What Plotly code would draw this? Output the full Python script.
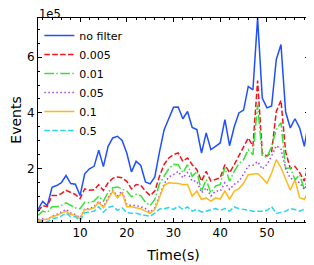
import plotly.graph_objects as go

# Time axis (s)
time_s = list(range(1, 60))

# Events, in units of 1e5
no_filter = [0.53, 0.82, 0.67, 1.33, 1.39, 1.49, 1.75, 1.46, 1.44, 1.03,
             1.81, 1.99, 2.08, 2.66, 2.07, 2.80, 3.10, 3.16, 3.01, 2.56,
             1.88, 2.26, 2.11, 1.52, 1.45, 1.70, 2.60, 3.40, 3.80, 4.20,
             4.21, 3.79, 4.05, 3.48, 3.40, 2.56, 3.28, 2.68, 2.80, 2.92,
             3.76, 2.82, 3.50, 4.00, 4.10, 4.95, 4.83, 7.41, 4.53, 4.18,
             4.25, 5.92, 6.46, 4.03, 3.46, 3.79, 3.46, 2.80, 3.76]
f_0005 = [0.47, 0.67, 0.63, 1.03, 1.03, 1.10, 1.22, 1.15, 1.07, 0.92,
          1.27, 1.22, 1.24, 1.42, 1.21, 1.49, 1.65, 1.70, 1.67, 1.54,
          1.27, 1.43, 1.40, 1.19, 1.03, 1.19, 1.72, 2.15, 2.38, 2.50,
          2.56, 2.26, 2.38, 2.14, 1.96, 1.55, 1.90, 1.55, 1.60, 1.67,
          2.14, 1.85, 2.14, 2.45, 2.75, 3.10, 2.80, 5.16, 2.56, 2.45,
          2.60, 4.05, 4.45, 2.60, 2.00, 2.08, 1.85, 1.55, 2.25]
f_001 = [0.32, 0.47, 0.42, 0.63, 0.63, 0.67, 0.77, 0.67, 0.59, 0.56,
         0.79, 0.77, 0.83, 1.01, 0.83, 1.15, 1.31, 1.34, 1.27, 1.19,
         0.99, 1.07, 1.03, 0.79, 0.67, 0.89, 1.45, 1.75, 2.00, 2.15,
         2.14, 1.85, 2.14, 1.72, 1.90, 1.19, 1.60, 1.13, 1.37, 1.43,
         2.03, 1.55, 1.90, 2.17, 2.32, 2.68, 2.50, 4.30, 2.45, 2.40,
         2.80, 3.40, 3.65, 2.00, 2.03, 1.60, 1.78, 1.25, 1.78]
f_005 = [0.17, 0.20, 0.17, 0.29, 0.35, 0.43, 0.53, 0.40, 0.35, 0.23,
         0.56, 0.56, 0.63, 0.83, 0.63, 0.95, 1.22, 1.01, 1.19, 0.71,
         0.67, 0.67, 0.63, 0.56, 0.43, 0.59, 1.05, 1.45, 1.70, 1.78,
         1.90, 1.67, 1.85, 1.55, 1.55, 1.13, 1.31, 1.01, 1.19, 1.19,
         1.49, 1.25, 1.43, 1.55, 1.80, 2.10, 2.12, 2.25, 1.98, 2.15,
         2.45, 2.82, 2.70, 2.00, 1.65, 1.60, 1.49, 1.25, 1.55]
f_01 = [0.12, 0.17, 0.17, 0.27, 0.32, 0.39, 0.47, 0.35, 0.32, 0.20,
        0.53, 0.53, 0.59, 0.79, 0.59, 0.89, 1.19, 0.95, 1.13, 0.63,
        0.63, 0.59, 0.56, 0.47, 0.39, 0.53, 0.95, 1.40, 1.49, 1.48,
        1.46, 1.43, 1.43, 1.01, 1.19, 0.89, 0.95, 0.83, 0.95, 0.91,
        1.19, 0.89, 1.19, 1.28, 1.47, 1.78, 1.80, 1.82, 1.66, 1.47,
        1.84, 2.32, 2.03, 1.60, 1.22, 1.60, 0.95, 0.89, 1.25]
f_05 = [0.08, 0.12, 0.08, 0.20, 0.23, 0.29, 0.41, 0.27, 0.27, 0.13,
        0.41, 0.43, 0.47, 0.63, 0.43, 0.60, 0.65, 0.50, 0.59, 0.42,
        0.39, 0.39, 0.35, 0.31, 0.28, 0.40, 0.55, 0.56, 0.60, 0.53,
        0.65, 0.53, 0.62, 0.47, 0.53, 0.44, 0.47, 0.53, 0.56, 0.50,
        0.56, 0.47, 0.62, 0.56, 0.53, 0.50, 0.47, 0.47, 0.47, 0.50,
        0.63, 0.39, 0.42, 0.47, 0.56, 0.53, 0.47, 0.56, 0.62]

series_names = ["no filter", "0.005", "0.01", "0.05", "0.1", "0.5"]
series_values = [no_filter, f_0005, f_001, f_005, f_01, f_05]
colors = ["#1f4fff", "#f0141e", "#36e236", "#a040f0", "#ffb81c", "#2ad4f5"]
dashes = ["solid", "5.5px,2.4px", "9.6px,2.4px,1.5px,2.4px", "1.5px,2.5px",
          "solid", "5.5px,2.4px"]

fig = go.Figure()
for name, vals, c, d in zip(series_names, series_values, colors, dashes):
    fig.add_trace(go.Scatter(x=time_s, y=vals, mode="lines", name=name,
                             line=dict(color=c, width=1.5, dash=d)))

all_vals = [v for s in series_values for v in s]
font = "DejaVu Sans, sans-serif"

axis_common = dict(showline=True, linecolor="black", linewidth=1,
                   mirror="allticks", ticks="inside", ticklen=4,
                   tickwidth=1, tickcolor="black", showgrid=False,
                   zeroline=False, automargin=False,
                   tickfont=dict(family=font, size=12, color="black"))

# The page body keeps its default 8px margin, so the figure is sized and
# placed to compensate for that offset inside the 314x265 window.
fig.update_layout(
    width=306, height=257,
    margin=dict(l=30, r=5, t=10, b=43, autoexpand=False),
    paper_bgcolor="white", plot_bgcolor="white",
    font=dict(family=font, color="black"),
    showlegend=True,
    legend=dict(x=0.005, y=0.985, xanchor="left", yanchor="top",
                bgcolor="rgba(0,0,0,0)", borderwidth=0,
                font=dict(family=font, size=11, color="black")),
    xaxis=dict(range=[min(time_s), max(time_s)], tickvals=[10, 20, 30, 40, 50],
               minor=dict(dtick=2, tick0=0, ticks="inside", ticklen=2,
                          tickcolor="black", showgrid=False),
               title=dict(text="Time(s)", font=dict(family=font, size=14),
                          standoff=10),
               **axis_common),
    yaxis=dict(range=[min(all_vals), max(all_vals)], tickvals=[2, 4, 6],
               minor=dict(dtick=0.5, tick0=0, ticks="inside", ticklen=2,
                          tickcolor="black", showgrid=False),
               title=dict(text="Events", font=dict(family=font, size=14),
                          standoff=13),
               **axis_common),
    annotations=[dict(text="1e5", x=0, y=1, xref="paper", yref="paper",
                      xanchor="left", yanchor="bottom", showarrow=False,
                      yshift=-4, borderpad=0,
                      font=dict(family=font, size=11.5, color="black"))],
)

fig.write_html("out.html")
